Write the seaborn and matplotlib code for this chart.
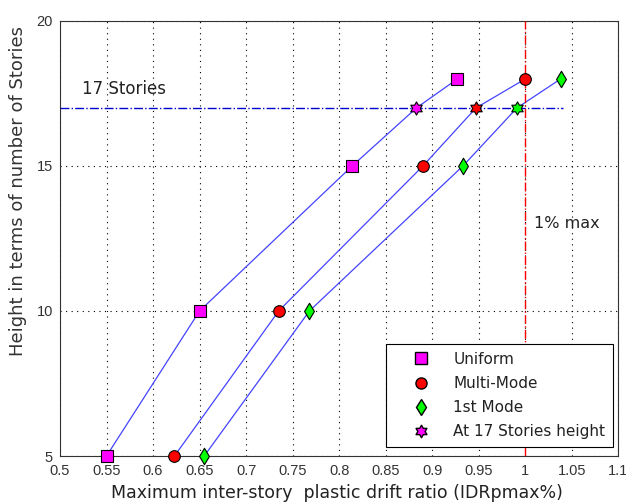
import numpy as np
import pandas as pd
import seaborn as sns
import matplotlib
matplotlib.use("Agg")
import matplotlib.pyplot as plt
from matplotlib.path import Path
from matplotlib.lines import Line2D

# Storey counts and drift ratios (%) per load pattern
stories = [5, 10, 15, 18]
uniform = [0.550, 0.650, 0.814, 0.927]
multi_mode = [0.623, 0.735, 0.890, 1.000]
first_mode = [0.655, 0.768, 0.933, 1.038]

# Drift ratio interpolated at 17 storeys
height_17 = 17
at17 = {"Uniform": 0.883, "Multi-Mode": 0.947, "1st Mode": 0.991}

series_names = ["Uniform", "Multi-Mode", "1st Mode"]
series_values = [uniform, multi_mode, first_mode]
series_colors = ["#ff00ff", "#ff0000", "#00ff00"]
series_markers = ["s", "o", "d"]

x_ticks = [0.5, 0.55, 0.6, 0.65, 0.7, 0.75, 0.8, 0.85, 0.9, 0.95, 1.0, 1.05, 1.1]
x_tick_labels = ["0.5", "0.55", "0.6", "0.65", "0.7", "0.75", "0.8", "0.85",
                 "0.9", "0.95", "1", "1.05", "1.1"]
y_ticks = [5, 10, 15, 20]

sns.set_style("white")
plt.rcParams["font.family"] = ["DejaVu Sans"]

# six-pointed star marker
ang = np.deg2rad(np.arange(12) * 30 + 90)
rad = np.where(np.arange(12) % 2 == 0, 1.0, 0.58)
hexagram = Path(np.c_[rad * np.cos(ang), rad * np.sin(ang)].tolist() + [[0, 1]],
                [Path.MOVETO] + [Path.LINETO] * 11 + [Path.CLOSEPOLY])

fig = plt.figure(figsize=(6.26, 5.03), dpi=100)
ax = fig.add_axes([0.0958, 0.0934, 0.892, 0.865])

for name, vals, col, mk in zip(series_names, series_values, series_colors, series_markers):
    xs = vals[:3] + [at17[name]] + vals[3:]
    ys = stories[:3] + [height_17] + stories[3:]
    df = pd.DataFrame({"drift": xs, "story": ys})
    sns.lineplot(data=df, x="drift", y="story", sort=False, ax=ax,
                 color="#4444ff", linewidth=0.9, zorder=2)
    sns.scatterplot(x=vals, y=stories, ax=ax, marker=mk, color=col,
                    edgecolor="black", linewidth=0.8, s=70, zorder=4, clip_on=False)
    sns.scatterplot(x=[at17[name]], y=[height_17], ax=ax, marker=hexagram, color=col,
                    edgecolor="black", linewidth=0.8, s=90, zorder=4)

# reference lines: 17 storeys and 1% drift limit
ax.plot([0.5, 1.04], [height_17, height_17], color="#0000cc", linestyle="-.",
        linewidth=1.0, zorder=3)
ax.axvline(1.0, color="#ff0000", linestyle="-.", linewidth=1.0, zorder=3)
ax.text(0.5235, 17.65, "17 Stories", fontsize=12, va="center", ha="left",
        color="#222222")
ax.text(1.0095, 13.0, "1% max", fontsize=11.5, va="center", ha="left",
        color="#222222")

ax.set_xlim(0.5, 1.1)
ax.set_ylim(5, 20)
ax.set_xticks(x_ticks)
ax.set_xticklabels(x_tick_labels)
ax.set_yticks(y_ticks)
ax.grid(True, color="black", linestyle=(0, (1, 4)), linewidth=0.8)
for sp in ax.spines.values():
    sp.set_color("#333333")
    sp.set_linewidth(0.8)
ax.tick_params(axis="both", direction="in", length=4, labelsize=9.5,
               colors="#333333")
ax.tick_params(axis="x", pad=6)
ax.tick_params(axis="y", pad=5)
for lab in ax.get_xticklabels() + ax.get_yticklabels():
    lab.set_fontfamily("Liberation Sans")
    lab.set_fontsize(10.5)
ax.set_xlabel("Maximum inter-story  plastic drift ratio (IDRpmax%)", fontsize=12.5,
              color="#222222")
ax.set_ylabel("Height in terms of number of Stories", fontsize=13,
              color="#333333")
ax.xaxis.set_label_coords(0.496, -0.085, transform=ax.transAxes)
ax.yaxis.set_label_coords(-0.075, 0.609, transform=ax.transAxes)
ax.xaxis.label.set_va("center")
ax.yaxis.label.set_va("center")

handles = [
    Line2D([], [], linestyle="none", marker="s", markerfacecolor="#ff00ff",
           markeredgecolor="black", markersize=8),
    Line2D([], [], linestyle="none", marker="o", markerfacecolor="#ff0000",
           markeredgecolor="black", markersize=8),
    Line2D([], [], linestyle="none", marker="d", markerfacecolor="#00ff00",
           markeredgecolor="black", markersize=8),
    Line2D([], [], linestyle="none", marker=hexagram, markerfacecolor="#ff00ff",
           markeredgecolor="black", markersize=9),
]
labels = ["Uniform", "Multi-Mode", "1st Mode", "At 17 Stories height"]
leg = ax.legend(handles, labels, loc="lower right", bbox_to_anchor=(0.99, 0.021),
                borderaxespad=0, frameon=True, fancybox=False, edgecolor="black",
                framealpha=1, fontsize=11, handletextpad=0.3, borderpad=0.5,
                labelspacing=0.6, handlelength=3.6)
leg.get_frame().set_linewidth(0.8)
for t in leg.get_texts():
    t.set_color("#222222")

fig.savefig("out.png", dpi=100)
